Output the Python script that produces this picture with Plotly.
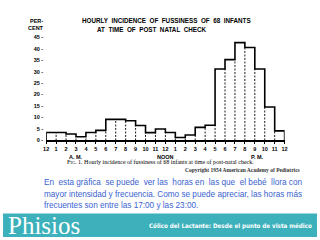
import plotly.graph_objects as go

# ---- data ----
hour_edges = list(range(25))
tick_labels = ["12"] + [str(i) for i in range(1, 12)] + ["12"] + [str(i) for i in range(1, 12)] + ["12"]
fussiness = [3.5, 3.5, 2.8, 1.6, 3.5, 4.4, 9.2, 9.2, 8.6, 6.5, 3.4, 5.0,
             3.5, 1.3, 2.4, 5.7, 6.6, 31.1, 35.2, 42.6, 40.5, 31.1, 14.6, 4.2]
y_ticks = [0, 5, 10, 15, 20, 25, 30, 35, 40, 45]

W, H = 320, 240
def px(x):
    return x / W
def py(y):
    return 1 - y / H

fig = go.Figure()

# step outline
sx = [0] + hour_edges[:-1] + [24, 24]
sy = [0] + fussiness + [fussiness[-1], 0]
fig.add_trace(go.Scatter(x=sx, y=sy, mode="lines", line=dict(shape="hv", color="black", width=1.6),
                         hoverinfo="skip", showlegend=False))

# dashed internal dividers
dx, dy = [], []
for i in range(1, 24):
    dx += [i, i, None]
    dy += [0, min(fussiness[i - 1], fussiness[i]), None]
fig.add_trace(go.Scatter(x=dx, y=dy, mode="lines", line=dict(color="black", width=0.9, dash="2px,1.5px"),
                         hoverinfo="skip", showlegend=False))

axis_font = dict(family="Liberation Sans, Arial, sans-serif", size=5.5, color="black", weight="bold")

fig.update_layout(
    width=W, height=H, margin=dict(l=0, r=0, t=0, b=0),
    paper_bgcolor="white", plot_bgcolor="white",
    xaxis=dict(domain=[px(44), px(287)], range=[0, 24], tickvals=hour_edges, ticktext=tick_labels,
               showgrid=False, zeroline=False, showline=True, linecolor="black", linewidth=2,
               ticks="outside", ticklen=2, tickwidth=1, tickcolor="black", tickfont=axis_font,
               fixedrange=True),
    yaxis=dict(domain=[py(141), py(35)], range=[0, 45], tickvals=y_ticks,
               ticktext=[f"{v} -" for v in y_ticks], showgrid=False, zeroline=False, showline=False,
               ticks="", tickfont=axis_font, ticklabelstandoff=2, fixedrange=True),
)

title_font = dict(family="Liberation Sans, Arial, sans-serif", size=6.3, color="black", weight="bold")
ann = []
ann.append(dict(x=px(167), y=py(18), text="HOURLY  INCIDENCE  OF  FUSSINESS  OF  68  INFANTS", font=title_font))
ann.append(dict(x=px(151), y=py(27), text="AT  TIME  OF  POST  NATAL  CHECK", font=title_font))
ann.append(dict(x=px(34), y=py(18), text="PER-", font=axis_font))
ann.append(dict(x=px(34), y=py(26), text="CENT", font=axis_font))
ann.append(dict(x=px(74), y=py(157.5), text="A. M.", font=axis_font))
ann.append(dict(x=px(166), y=py(157.5), text="NOON", font=axis_font))
ann.append(dict(x=px(259), y=py(157.5), text="P. M.", font=axis_font))
ann.append(dict(x=px(160), y=py(163), text="F<span style='font-size:4.5px'>IG</span>. 1. Hourly incidence of fussiness of 68 infants at time of post-natal check.",
                font=dict(family="Liberation Serif, Times New Roman, serif", size=6, color="black")))
ann.append(dict(x=px(244), y=py(171), text="<b>Copyright 1954 American Academy of Pediatrics</b>",
                font=dict(family="Liberation Serif, Times New Roman, serif", size=5.5, color="#333333")))

blue = dict(family="Liberation Sans, Arial, sans-serif", size=8.2, color="#3a62d0")
lines = ["En  esta gráfica  se puede  ver las  horas en  las que  el bebé  llora con",
         "mayor intensidad y frecuencia. Como se puede apreciar, las horas más",
         "frecuentes son entre las 17:00 y las 23:00."]
for i, t in enumerate(lines):
    ann.append(dict(x=px(40), y=py(184 + 12 * i), text=t, font=blue, xanchor="left"))

ann.append(dict(x=px(3), y=py(228), text="Phisios", xanchor="left",
                font=dict(family="Liberation Serif, Times New Roman, serif", size=25, color="white")))
ann.append(dict(x=px(317), y=py(229), xanchor="right",
                text="<b>Cólico del Lactante: Desde el punto de vista médico</b>",
                font=dict(family="Liberation Sans Narrow, DejaVu Sans Condensed, Arial Narrow, sans-serif",
                          size=6.2, color="white")))

for a in ann:
    a.update(xref="paper", yref="paper", showarrow=False, yanchor="middle")
    a.setdefault("xanchor", "center")
fig.update_layout(annotations=ann)

fig.add_shape(type="rect", xref="paper", yref="paper", x0=0, x1=1, y0=0, y1=py(216),
              fillcolor="#3db1bb", line=dict(width=0), layer="below")

fig.write_html("out.html")
